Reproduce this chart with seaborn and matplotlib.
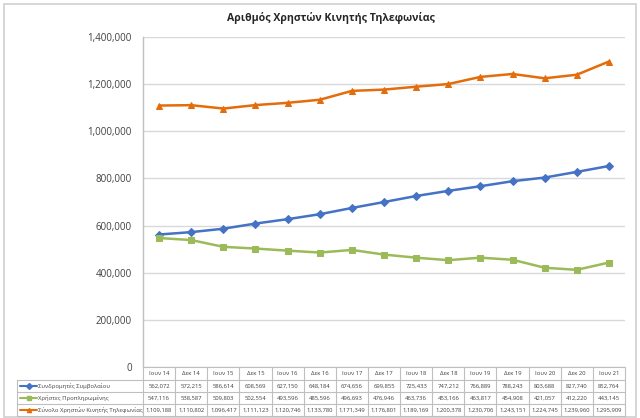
import numpy as np
import pandas as pd
import matplotlib
matplotlib.use('Agg')
import matplotlib.pyplot as plt
from matplotlib.lines import Line2D
from matplotlib.patches import Rectangle
from matplotlib.ticker import FuncFormatter
import seaborn as sns

# Data
periods = ['Ιουν 14', 'Δεκ 14', 'Ιουν 15', 'Δεκ 15', 'Ιουν 16', 'Δεκ 16', 'Ιουν 17', 'Δεκ 17',
           'Ιουν 18', 'Δεκ 18', 'Ιουν 19', 'Δεκ 19', 'Ιουν 20', 'Δεκ 20', 'Ιουν 21']
contract = [562072, 572215, 586614, 608569, 627150, 648184, 674656, 699855,
            725433, 747212, 766889, 788243, 803688, 827740, 852764]
prepaid = [547116, 538587, 509803, 502554, 493596, 485596, 496693, 476946,
           463736, 453166, 463817, 454908, 421057, 412220, 443145]
total = [1109188, 1110802, 1096417, 1111123, 1120746, 1133780, 1171349, 1176801,
         1189169, 1200378, 1230706, 1243151, 1224745, 1239960, 1295909]
series_names = ['Συνδρομητές Συμβολαίου', 'Χρήστες Προπληρωμένης', 'Σύνολο Χρηστών Κινητής Τηλεφωνίας']

colors = ['#4472C4', '#9BBB59', '#E46C0A']
markers = ['D', 's', '^']
msizes = [3.8, 4.5, 5]

sns.set_theme(style='white')
plt.rcParams['font.family'] = ['Open Sans', 'DejaVu Sans']

W, H = 640, 418
fig = plt.figure(figsize=(W / 100, H / 100), dpi=100)

left, right, top, bottom = 143, 625, 37, 367
ax = fig.add_axes([left / W, 1 - bottom / H, (right - left) / W, (bottom - top) / H])

df = pd.DataFrame({'pos': np.arange(len(periods)), 'contract': contract,
                   'prepaid': prepaid, 'total': total})
for col, c, m, ms in zip(['contract', 'prepaid', 'total'], colors, markers, msizes):
    sns.lineplot(data=df, x='pos', y=col, ax=ax, color=c, marker=m, markersize=ms,
                 markeredgecolor=c, linewidth=1.8)

ax.set_xlim(-0.5, len(periods) - 0.5)
ax.set_ylim(0, 1400000)
ax.set_yticks(range(0, 1400001, 200000))
ax.yaxis.set_major_formatter(FuncFormatter(lambda v, p: f'{int(v):,}'))
ax.tick_params(axis='y', labelsize=7, colors='#404040', length=0, pad=8)
ax.set_xticks([])
ax.set_xlabel('')
ax.set_ylabel('')
ax.grid(axis='y', color='#D9D9D9', linewidth=1)
for s in ['top', 'right', 'bottom']:
    ax.spines[s].set_visible(False)
ax.spines['left'].set_color('#BFBFBF')
ax.spines['left'].set_linewidth(1)

fig.text(331 / W, 1 - 18 / H, 'Αριθμός Χρηστών Κινητής Τηλεφωνίας', ha='center', va='center',
         fontsize=7.6, fontweight='bold', color='#262626')

# Data table drawn in pixel coordinates
tax = fig.add_axes([0, 0, 1, 1])
tax.set_xlim(0, W)
tax.set_ylim(H, 0)
tax.axis('off')
tax.add_patch(Rectangle((4, 4), 632, 413, fill=False, edgecolor='#D0D0D0', linewidth=1.2))

n = len(periods)
cw = (right - left) / n
rows_y = [367, 380, 392, 404, 416]
lc = '#BFBFBF'
tax.plot([left, right], [rows_y[0], rows_y[0]], color=lc, lw=0.8)
for y in rows_y[1:]:
    tax.plot([17, right], [y, y], color=lc, lw=0.8)
for i in range(n + 1):
    tax.plot([left + i * cw] * 2, [rows_y[0], rows_y[-1]], color=lc, lw=0.8)
tax.plot([17, 17], [rows_y[1], rows_y[-1]], color=lc, lw=0.8)

fs = 4.2
for i, p in enumerate(periods):
    tax.text(left + (i + 0.5) * cw, (rows_y[0] + rows_y[1]) / 2, p, ha='center', va='center',
             fontsize=fs, color='#404040')

for r, (vals, name, c, m) in enumerate(zip([contract, prepaid, total], series_names, colors, markers)):
    yc = (rows_y[r + 1] + rows_y[r + 2]) / 2
    tax.add_line(Line2D([20, 37], [yc, yc], color=c, lw=1.5))
    tax.add_line(Line2D([28.5], [yc], color=c, marker=m, markersize=3, markeredgecolor=c))
    tax.text(38, yc, name, ha='left', va='center', fontsize=fs, color='#404040')
    for i, v in enumerate(vals):
        tax.text(left + (i + 0.5) * cw, yc, f'{v:,}', ha='center', va='center',
                 fontsize=fs, color='#404040')

fig.savefig('out.png', dpi=100)
